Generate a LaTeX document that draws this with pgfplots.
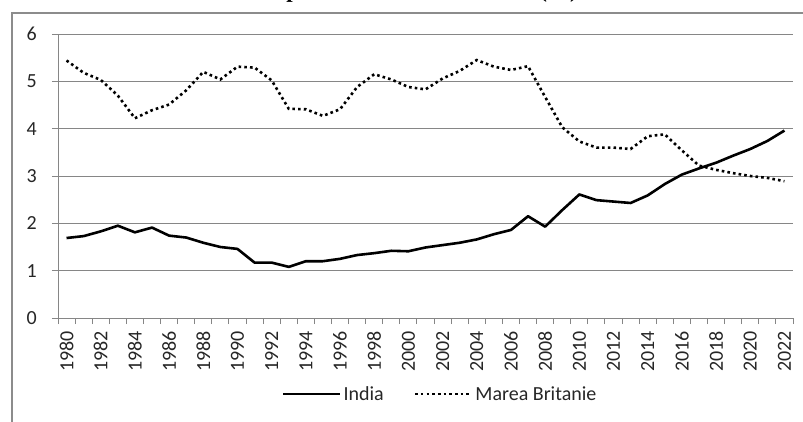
\documentclass[border=0pt]{standalone}
\usepackage{pgfplots}
\usepackage{pgfplotstable}
\pgfplotsset{compat=1.18}
\usepackage{fontspec}
\setmainfont{Carlito}
\newfontfamily\titlefont{Liberation Serif}
\definecolor{gridgray}{HTML}{868686}
\definecolor{framegray}{HTML}{8C8C8C}

\pgfplotstableread{
x india uk
0 1.69 5.44
1 1.73 5.18
2 1.83 5.03
3 1.95 4.70
4 1.81 4.22
5 1.91 4.39
6 1.74 4.51
7 1.70 4.81
8 1.59 5.20
9 1.50 5.04
10 1.46 5.31
11 1.17 5.29
12 1.17 5.02
13 1.08 4.42
14 1.20 4.41
15 1.20 4.27
16 1.25 4.41
17 1.33 4.88
18 1.37 5.15
19 1.42 5.04
20 1.41 4.88
21 1.49 4.83
22 1.54 5.06
23 1.59 5.22
24 1.66 5.45
25 1.77 5.31
26 1.86 5.24
27 2.15 5.32
28 1.93 4.67
29 2.28 4.03
30 2.61 3.73
31 2.49 3.60
32 2.46 3.60
33 2.43 3.57
34 2.59 3.84
35 2.83 3.88
36 3.03 3.54
37 3.16 3.22
38 3.28 3.13
39 3.43 3.06
40 3.57 3.00
41 3.74 2.96
42 3.96 2.89
}\data

\begin{document}
\begin{tikzpicture}[x=1pt,y=1pt]
\useasboundingbox (0,0) rectangle (803,421);
\clip (0,0) rectangle (803,421);
\node[anchor=base east, font=\titlefont\bfseries\fontsize{23}{28}\selectfont, inner sep=0pt] at (578,423) {Cota parte din PIB-ul mondial (\%)};
\draw[framegray, line width=2pt] (12,-5) -- (12,408) -- (810,408);
\begin{axis}[
  at={(58pt,103pt)}, anchor=south west,
  scale only axis, width=735pt, height=284pt,
  xmin=-0.5, xmax=42.5, ymin=0, ymax=6,
  axis x line*=bottom, axis y line*=left,
  axis line style={gridgray, line width=1pt, -},
  ytick={0,1,...,6},
  xtick={0,2,...,42},
  xticklabels={1980,1982,1984,1986,1988,1990,1992,1994,1996,1998,2000,2002,2004,2006,2008,2010,2012,2014,2016,2018,2020,2022},
  minor xtick={-0.5,0.5,...,42.5},
  minor ytick={0,1,...,6},
  tick align=outside,
  major tick length=0pt, minor tick length=6pt,
  tick style={gridgray, line width=1pt},
  ymajorgrids, grid style={gridgray, line width=1pt},
  /pgf/number format/assume math mode=true,
  tick label style={font=\fontsize{20}{24}\selectfont, text=black!85},
  xticklabel style={rotate=90, anchor=east, inner sep=0pt},
  xticklabel shift=13pt,
  yticklabel style={anchor=east, inner sep=0pt},
  yticklabel shift=21pt,
  legend columns=2,
  legend style={at={(axis description cs:0.52,-0.268)}, anchor=center, draw=none, fill=none,
    font=\fontsize{20}{24}\selectfont, text=black!85,
    /tikz/every even column/.append style={column sep=28pt}},
  legend image code/.code={\draw[#1] (0pt,0pt) -- (57pt,0pt);},
]
\addplot[black, line width=2.6pt, line join=round, no markers] table[x=x, y=india] {\data};
\addlegendentry{India}
\addplot[black, line width=2.6pt, dash pattern=on 2.6pt off 3.1pt, no markers] table[x=x, y=uk] {\data};
\addlegendentry{Marea Britanie}
\end{axis}
\end{tikzpicture}
\end{document}
